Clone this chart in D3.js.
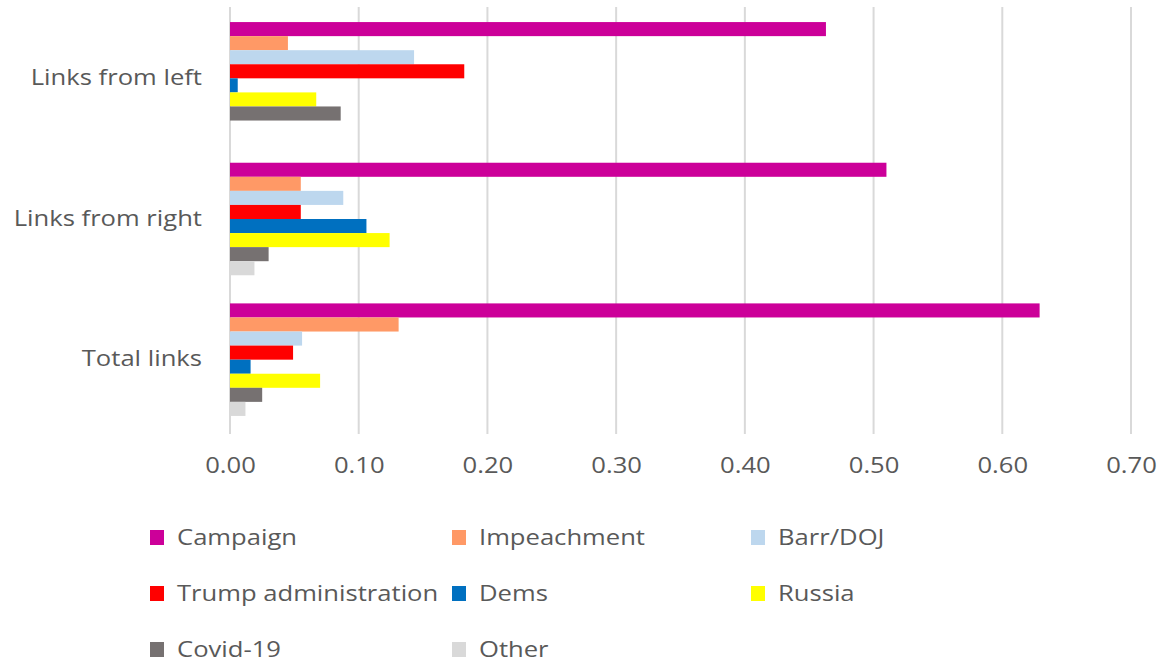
<!DOCTYPE html>
<html>
<head>
<meta charset="utf-8">
<script src="https://cdn.jsdelivr.net/npm/d3@7"></script>
<style>
  html, body { margin: 0; padding: 0; background: #fff; }
  svg { display: block; }
  text { font-family: "Open Sans", "Liberation Sans", sans-serif; fill: #595959; }
</style>
</head>
<body>
<svg id="chart" width="1164" height="668"></svg>
<script>
// Share of links by topic, per link source
const categories = ["Links from left", "Links from right", "Total links"];
const seriesNames = ["Campaign", "Impeachment", "Barr/DOJ", "Trump administration", "Dems", "Russia", "Covid-19", "Other"];
const seriesColors = ["#CC0099", "#FF9966", "#BDD7EE", "#FF0000", "#0070C0", "#FFFF00", "#767171", "#D9D9D9"];

// values per series, in category order (left, right, total)
const campaign     = [0.463, 0.510, 0.629];
const impeachment  = [0.045, 0.055, 0.131];
const barrDoj      = [0.143, 0.088, 0.056];
const trumpAdmin   = [0.182, 0.055, 0.049];
const dems         = [0.006, 0.106, 0.016];
const russia       = [0.067, 0.124, 0.070];
const covid19      = [0.086, 0.030, 0.025];
const other        = [0.000, 0.019, 0.012];

const xTicks = [0, 0.1, 0.2, 0.3, 0.4, 0.5, 0.6, 0.7];

const seriesValues = [campaign, impeachment, barrDoj, trumpAdmin, dems, russia, covid19, other];

const svg = d3.select("#chart");

const plot = { left: 230, right: 1131, top: 8, bottom: 430 };
const fontSize = 21;
const stretch = 1.22;   // wide, condensed-free text look

const x = d3.scaleLinear().domain([0, 0.7]).range([plot.left, plot.right]);

const y0 = d3.scaleBand()
  .domain(categories)
  .range([plot.top, plot.bottom])
  .paddingInner(0.2)
  .paddingOuter(0.1);

const y1 = d3.scaleBand()
  .domain(seriesNames)
  .range([0, y0.bandwidth()])
  .padding(0);

// vertical gridlines
svg.append("g")
  .selectAll("line")
  .data(xTicks)
  .join("line")
  .attr("x1", d => x(d)).attr("x2", d => x(d))
  .attr("y1", plot.top - 1).attr("y2", plot.bottom + 4)
  .attr("stroke", "#D9D9D9")
  .attr("stroke-width", 2);

// bar groups
const groups = svg.append("g")
  .selectAll("g")
  .data(categories)
  .join("g")
  .attr("transform", d => `translate(0,${y0(d)})`);

groups.selectAll("rect")
  .data((c, ci) => seriesNames.map((s, si) => ({ s, si, v: seriesValues[si][ci] })))
  .join("rect")
  .attr("x", x(0))
  .attr("y", d => y1(d.s))
  .attr("width", d => x(d.v) - x(0))
  .attr("height", y1.bandwidth())
  .attr("fill", d => seriesColors[d.si]);

// x axis tick labels
const xAxis = d3.axisBottom(x)
  .tickValues(xTicks)
  .tickFormat(d3.format(".2f"))
  .tickSize(0)
  .tickPadding(0);

svg.append("g")
  .attr("transform", `translate(0,${plot.bottom + 28})`)
  .call(xAxis)
  .call(g => g.select(".domain").remove())
  .call(g => g.selectAll("text")
    .attr("font-size", fontSize)
    .attr("font-family", "'Open Sans', sans-serif")
    .attr("fill", "#595959")
    .attr("transform", `scale(${stretch},1)`));

// category axis labels
const yAxis = d3.axisLeft(y0).tickSize(0).tickPadding(0);
svg.append("g")
  .attr("transform", `translate(${plot.left},0)`)
  .call(yAxis)
  .call(g => g.select(".domain").remove())
  .call(g => g.selectAll("text")
    .attr("x", 0)
    .attr("font-size", fontSize)
    .attr("font-family", "'Open Sans', sans-serif")
    .attr("fill", "#595959")
    .attr("transform", `translate(-28,0) scale(${stretch},1)`));

// legend: three columns, three rows
const legendCols = [150, 452, 751];
const legendRows = [538, 594, 650];
const legend = svg.append("g")
  .selectAll("g")
  .data(seriesNames)
  .join("g")
  .attr("transform", (d, i) => `translate(${legendCols[i % 3]},${legendRows[Math.floor(i / 3)]})`);

legend.append("rect")
  .attr("x", 0).attr("y", -8)
  .attr("width", 14).attr("height", 15)
  .attr("fill", (d, i) => seriesColors[i]);

legend.append("text")
  .attr("transform", `translate(27,0) scale(${stretch},1)`)
  .attr("dy", "0.35em")
  .attr("font-size", fontSize)
  .text(d => d);
</script>
</body>
</html>
